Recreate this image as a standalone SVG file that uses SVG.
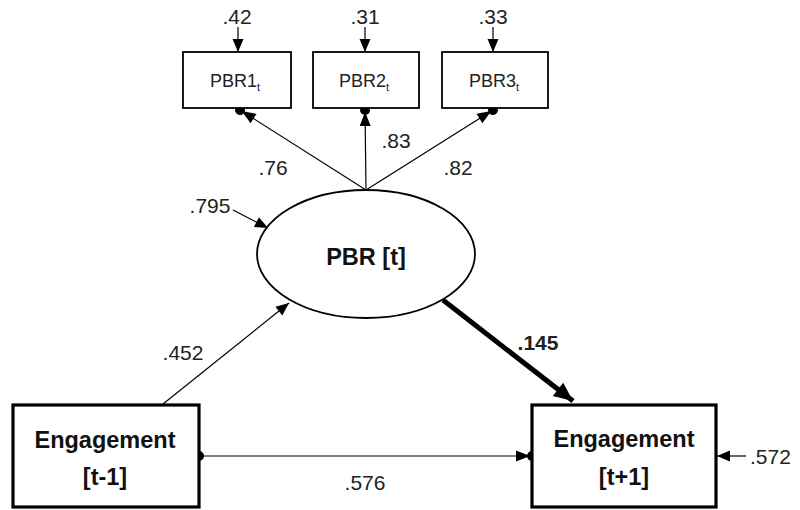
<svg xmlns="http://www.w3.org/2000/svg" width="800" height="510" viewBox="0 0 800 510">
<style>
.box{fill:#fff;stroke:#000;stroke-width:1.8}
.bbox{fill:#fff;stroke:#000;stroke-width:3.2}
.ln{stroke:#000;stroke-width:1.2;fill:none}
.t{font-family:"Liberation Sans",Arial,sans-serif;font-size:21px;fill:#222;text-anchor:middle}
.st{font-family:"Liberation Sans",Arial,sans-serif;font-size:18px;fill:#222;text-anchor:middle}
.bt{font-family:"Liberation Sans",Arial,sans-serif;font-size:23.5px;font-weight:bold;fill:#111;text-anchor:middle}
</style>
<defs>
<marker id="arr" markerUnits="userSpaceOnUse" viewBox="-14 -6 16 12" refX="0" refY="0" markerWidth="16" markerHeight="12" orient="auto" overflow="visible">
<path d="M0,0 L-13,-5.5 L-13,5.5 Z" fill="#000"/>
</marker>
<marker id="arrdot" markerUnits="userSpaceOnUse" viewBox="-16 -8 22 16" refX="0" refY="0" markerWidth="22" markerHeight="16" orient="auto" overflow="visible">
<path d="M-2,0 L-16,-5.5 L-16,5.5 Z" fill="#000"/>
<circle cx="0" cy="0" r="5" fill="#000"/>
</marker>
<marker id="dot" markerUnits="userSpaceOnUse" viewBox="-6 -6 12 12" refX="0" refY="0" markerWidth="12" markerHeight="12" overflow="visible">
<circle cx="0" cy="0" r="5" fill="#000"/>
</marker>
<marker id="big" markerUnits="userSpaceOnUse" viewBox="-20 -9 22 18" refX="0" refY="0" markerWidth="22" markerHeight="18" orient="auto" overflow="visible">
<path d="M0,0 L-19,-8.5 L-19,8.5 Z" fill="#000"/>
</marker>
</defs>

<g id="connectors">
<line class="ln" x1="238" y1="27" x2="238" y2="52" marker-end="url(#arr)"/>
<line class="ln" x1="365" y1="27" x2="365" y2="52" marker-end="url(#arr)"/>
<line class="ln" x1="493" y1="27" x2="493" y2="52" marker-end="url(#arr)"/>
<line class="ln" x1="366" y1="190" x2="240" y2="110" marker-end="url(#arrdot)"/>
<line class="ln" x1="366" y1="190" x2="365" y2="110" marker-end="url(#arrdot)"/>
<line class="ln" x1="366" y1="190" x2="493" y2="110" marker-end="url(#arrdot)"/>
<line class="ln" x1="233" y1="210" x2="268" y2="228" marker-end="url(#arr)"/>
<line class="ln" x1="163" y1="404" x2="289" y2="303" marker-end="url(#arr)"/>
<line x1="443" y1="300" x2="573" y2="401" stroke="#000" stroke-width="5" marker-end="url(#big)"/>
<line class="ln" x1="199" y1="456" x2="532" y2="456" marker-start="url(#dot)" marker-end="url(#arrdot)"/>
<line class="ln" x1="746" y1="456" x2="717" y2="456" marker-end="url(#arr)"/>
<text class="t" x="237" y="24">.42</text>
<text class="t" x="365" y="24">.31</text>
<text class="t" x="493" y="24">.33</text>
<text class="t" x="273" y="175">.76</text>
<text class="t" x="396" y="148">.83</text>
<text class="t" x="458" y="175">.82</text>
<text class="t" x="210" y="213">.795</text>
<text class="t" x="183" y="360">.452</text>
<text class="t" x="538" y="350" style="font-weight:bold">.145</text>
<text class="t" x="365" y="490">.576</text>
<text class="t" x="750" y="464" style="text-anchor:start">.572</text>
</g>

<g id="pbr1">
<rect class="box" x="183" y="52" width="108" height="56"/>
<text class="st" x="235" y="87">PBR1<tspan font-size="11" dy="4">t</tspan></text>
</g>
<g id="pbr2">
<rect class="box" x="313" y="52" width="106" height="56"/>
<text class="st" x="364" y="87">PBR2<tspan font-size="11" dy="4">t</tspan></text>
</g>
<g id="pbr3">
<rect class="box" x="442" y="52" width="106" height="56"/>
<text class="st" x="494" y="87">PBR3<tspan font-size="11" dy="4">t</tspan></text>
</g>
<g id="pbrt">
<ellipse cx="366" cy="254" rx="109" ry="64" fill="#fff" stroke="#000" stroke-width="1.8"/>
<text class="bt" x="366" y="265">PBR [t]</text>
</g>
<g id="eng_prev">
<rect class="bbox" x="13" y="405" width="186" height="102"/>
<text class="bt" x="105" y="448">Engagement</text>
<text class="bt" x="105" y="485">[t-1]</text>
</g>
<g id="eng_next">
<rect class="bbox" x="532" y="405" width="184" height="102"/>
<text class="bt" x="624" y="447">Engagement</text>
<text class="bt" x="624" y="485">[t+1]</text>
</g>
</svg>
